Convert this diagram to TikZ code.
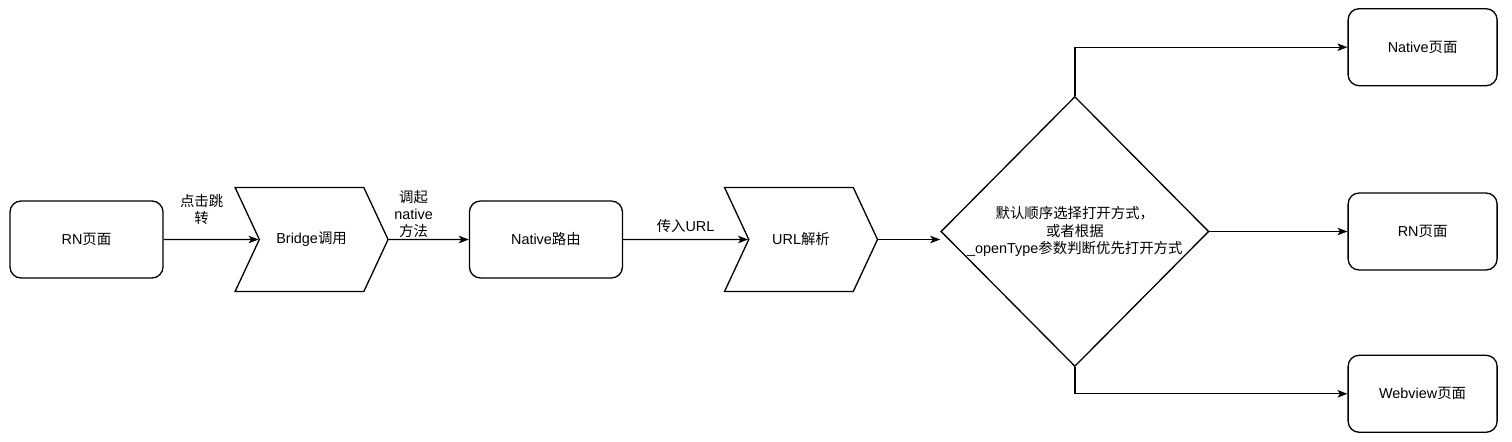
\documentclass[tikz,border=0pt]{standalone}
\usepackage{fontspec}
\setmainfont{Liberation Sans}
\newfontfamily\cjk{Noto Sans CJK SC}
\usetikzlibrary{arrows.meta, positioning, shapes.geometric, shapes.symbols}

\begin{document}
\begin{tikzpicture}[
        x=0.02cm, y=-0.02cm,
        font=\fontsize{8.2}{9.8}\selectfont,
        line width=0.75pt,
        >={Stealth[length=0.2cm, width=0.15cm, inset=0.05cm]},
        pagina/.style={
            rectangle,
            rounded corners=0.22cm,
            minimum width=3.06cm,
            minimum height=1.54cm,
            align=center,
            draw=black
        },
        proceso/.style={
            signal,
            signal from=west,
            signal to=east,
            signal pointer angle=130,
            minimum width=3.06cm,
            minimum height=2.08cm,
            align=center,
            draw=black
        },
        rombo/.style={
            diamond,
            inner sep=0pt,
            minimum width=5.36cm,
            minimum height=5.4cm,
            draw=black
        }
    ]
    \useasboundingbox[fill=white] (0,0) rectangle (1512,442);

    % fila principal
    \node[pagina] (rn) at (86.5,239.5) {RN{\cjk 页面}};
    \node[proceso, right=1.9cm of rn] (bridge) {Bridge{\cjk 调用}};
    \node[pagina, right=1.6cm of bridge] (native) {Native{\cjk 路由}};
    \node[proceso, right=2.5cm of native] (url) {URL{\cjk 解析}};
    \node[rombo, right=1.24cm of url, yshift=0.16cm] (decide) {};
    \node[align=center] (decidetext) at (decide) {
        {\cjk 默认顺序选择打开方式，}\\
        {\cjk 或者根据}\\
        \_openType{\cjk 参数判断优先打开方式}
    };

    % paginas de destino
    \node[pagina, minimum width=2.98cm, right=2.76cm of decide] (rnpage) {RN{\cjk 页面}};
    \node[pagina, minimum width=2.98cm, above=2.12cm of rnpage] (nativepage) {Native{\cjk 页面}};
    \node[pagina, minimum width=2.98cm, below=1.68cm of rnpage] (webview) {Webview{\cjk 页面}};

    % flechas
    \draw[->] (rn) -- (bridge)
        node[pos=0.4, above=0.16cm, align=center] (clicklabel) {{\cjk 点击跳}\\{\cjk 转}};
    \draw[->] (bridge) -- (native)
        node[pos=0.31, above=0cm, inner sep=0.5pt, align=center] (calllabel) {{\cjk 调起}\\native\\{\cjk 方法}};
    \draw[->] (native) -- (url)
        node[midway, above] (urllabel) {{\cjk 传入}URL};
    \draw[->] (url.east) -- (url.east -| decide.west);
    \draw[->] (decide.east) -- (rnpage.west);
    \draw[->] (decide.north) |- (nativepage.west);
    \draw[->] (decide.south) |- (webview.west);
\end{tikzpicture}
\end{document}
